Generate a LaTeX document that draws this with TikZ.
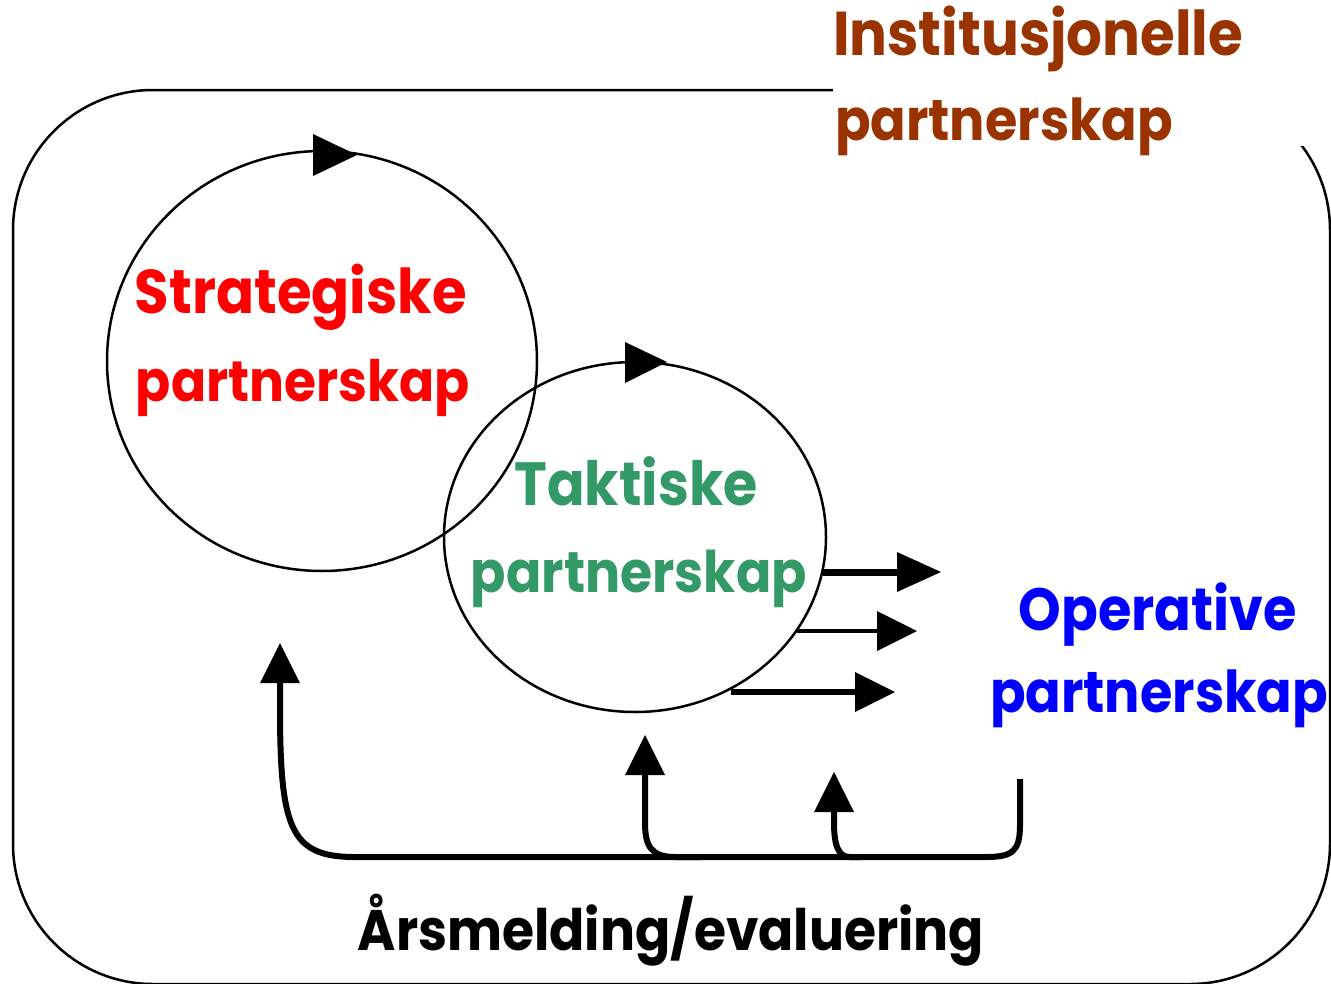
\documentclass[tikz,border=0pt]{standalone}
\usepackage{fontspec}
\setmainfont{Poppins}
\usetikzlibrary{arrows.meta,shapes.geometric}
\definecolor{instbrown}{HTML}{993300}
\definecolor{stratred}{HTML}{FF0000}
\definecolor{taktgreen}{HTML}{339966}
\definecolor{opblue}{HTML}{0000FF}
\newcommand{\fitw}[2]{\resizebox{#1pt}{!}{\scalebox{1}[1.1]{\bfseries #2}}}
\begin{document}
\begin{tikzpicture}[x=1pt,y=-1pt,
  lbl/.style={inner sep=0pt, outer sep=0pt, anchor=base},
  lblw/.style={inner sep=0pt, outer sep=0pt, anchor=base west},
  ring/.style={draw, ellipse, line width=2.5pt, inner sep=0pt, outer sep=0pt},
  fb/.style={line width=6pt, line join=round},
  fbtip/.style={fb, -{Triangle[length=40pt,width=40pt,line width=0pt]}},
  outarrow/.style={-{Triangle[length=#1pt,width=40pt,line width=0pt]}},
  headtri/.style={fill=black},
]
\useasboundingbox (0,0) rectangle (1331,983);
% institutional frame
\begin{scope}
\clip (0,0) rectangle (1331,983);
\draw[line width=2.5pt, rounded corners=140pt] (13,90) rectangle (1330,984);
\end{scope}
\fill[white] (833,0) rectangle (1331,146);
% circles
\node[ring, minimum width=430pt, minimum height=420pt] (strat) at (322,361) {};
\node[ring, minimum width=382pt, minimum height=350pt] (takt) at (635,537) {};
\fill[headtri] (313,134) -- (357,155) -- (313,176) -- cycle;
\fill[headtri] (625,342) -- (667,362) -- (625,383) -- cycle;
% labels
\node[lblw, text=instbrown] (inst1) at (833,55) {\fitw{410}{Institusjonelle}};
\node[lblw, text=instbrown] (inst2) at (835,140) {\fitw{338}{partnerskap}};
\node[lbl, text=stratred] (strat1) at (301,313) {\fitw{332}{Strategiske}};
\node[lbl, text=stratred] (strat2) at (303,401) {\fitw{334}{partnerskap}};
\node[lbl, text=taktgreen] (takt1) at (636,505) {\fitw{243}{Taktiske}};
\node[lbl, text=taktgreen] (takt2) at (639,592) {\fitw{336}{partnerskap}};
\node[lbl, text=opblue] (op1) at (1158,630) {\fitw{278}{Operative}};
\node[lbl, text=opblue] (op2) at (1159,712) {\fitw{338}{partnerskap}};
\node[lbl, text=black] (ars) at (671,950) {\fitw{626}{Årsmelding/evaluering}};
% arrows to operative
\coordinate (e1) at (941,572);
\coordinate (e2) at (917,631);
\coordinate (e3) at (895,692);
\draw[line width=7pt, outarrow=44] (e1 -| takt.-10.6) -- (e1);
\draw[line width=4pt, outarrow=40] (e2 -| takt.-30.3) -- (e2);
\draw[line width=6pt, outarrow=40] (731,692) -- (e3);
% feedback
\coordinate (fbstart) at (1020,779);
\coordinate (tipS) at (280,643);
\coordinate (tipT) at (645,735);
\coordinate (tipO) at (834,772);
\draw[fbtip] (fbstart) -- (1020,825) .. controls (1020,852) and (1012,857) .. (985,857)
  -- (355,857) .. controls (292,857) and (281,830) .. (280,720) -- (tipS);
\draw[fbtip] (700,857) -- (675,857) .. controls (650,857) and (645,845) .. (645,822) -- (tipT);
\draw[fbtip] (860,857) -- (850,857) .. controls (838,857) and (834,845) .. (834,822) -- (tipO);
\end{tikzpicture}
\end{document}
